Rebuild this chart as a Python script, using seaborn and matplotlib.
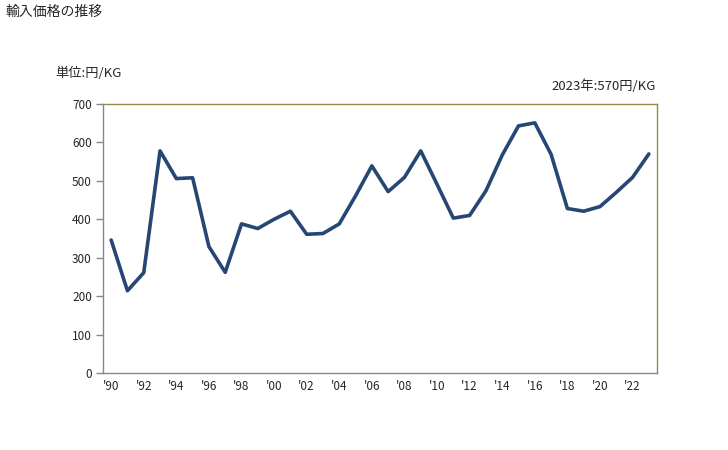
import matplotlib
matplotlib.use("Agg")
import matplotlib.pyplot as plt
import seaborn as sns
import pandas as pd

years = list(range(1990, 2024))
prices = [346, 214, 261, 578, 506, 508, 329, 262, 388, 376, 400, 421, 361, 363,
          388, 461, 539, 472, 509, 578, 491, 403, 410, 474, 567, 643, 651, 569,
          428, 421, 433, 470, 509, 570]
tick_years = list(range(1990, 2023, 2))
tick_labels = ["'" + str(y)[2:] for y in tick_years]

sns.set_theme(style="white")
plt.rcParams['font.family'] = ['Noto Sans CJK JP', 'DejaVu Sans']

df = pd.DataFrame({"year": years, "price": prices})

fig = plt.figure(figsize=(7.28, 4.5), dpi=100)
ax = fig.add_axes([103/728, 1-373/450, (657-103)/728, (373-104)/450])
sns.lineplot(data=df, x="year", y="price", ax=ax, color="#264773", linewidth=2.6)

ax.set_xlim(1989.5, 2023.5)
ax.set_ylim(0, 700)
ax.set_yticks(range(0, 701, 100))
ax.set_xticks(tick_years)
ax.set_xticklabels(tick_labels)
ax.set_xlabel("")
ax.set_ylabel("")
ax.tick_params(axis="y", direction="out", length=5, width=1, color="#888888",
               labelsize=8.5, pad=3, left=True)
ax.tick_params(axis="x", length=0, labelsize=8.5, pad=5)
for s in ["left", "bottom"]:
    ax.spines[s].set_color("#888888")
    ax.spines[s].set_linewidth(1)
for s in ["top", "right"]:
    ax.spines[s].set_color("#9a8a4a")
    ax.spines[s].set_linewidth(1)

fig.text(5/728, 1-12/450, "輸入価格の推移", fontsize=10, va="center", ha="left")
fig.text(55/728, 1-73/450, "単位:円/KG", fontsize=9.5, va="center", ha="left")
fig.text(656/728, 1-86/450, "2023年:570円/KG", fontsize=9.5, va="center", ha="right")

fig.savefig("out.png", dpi=100)
